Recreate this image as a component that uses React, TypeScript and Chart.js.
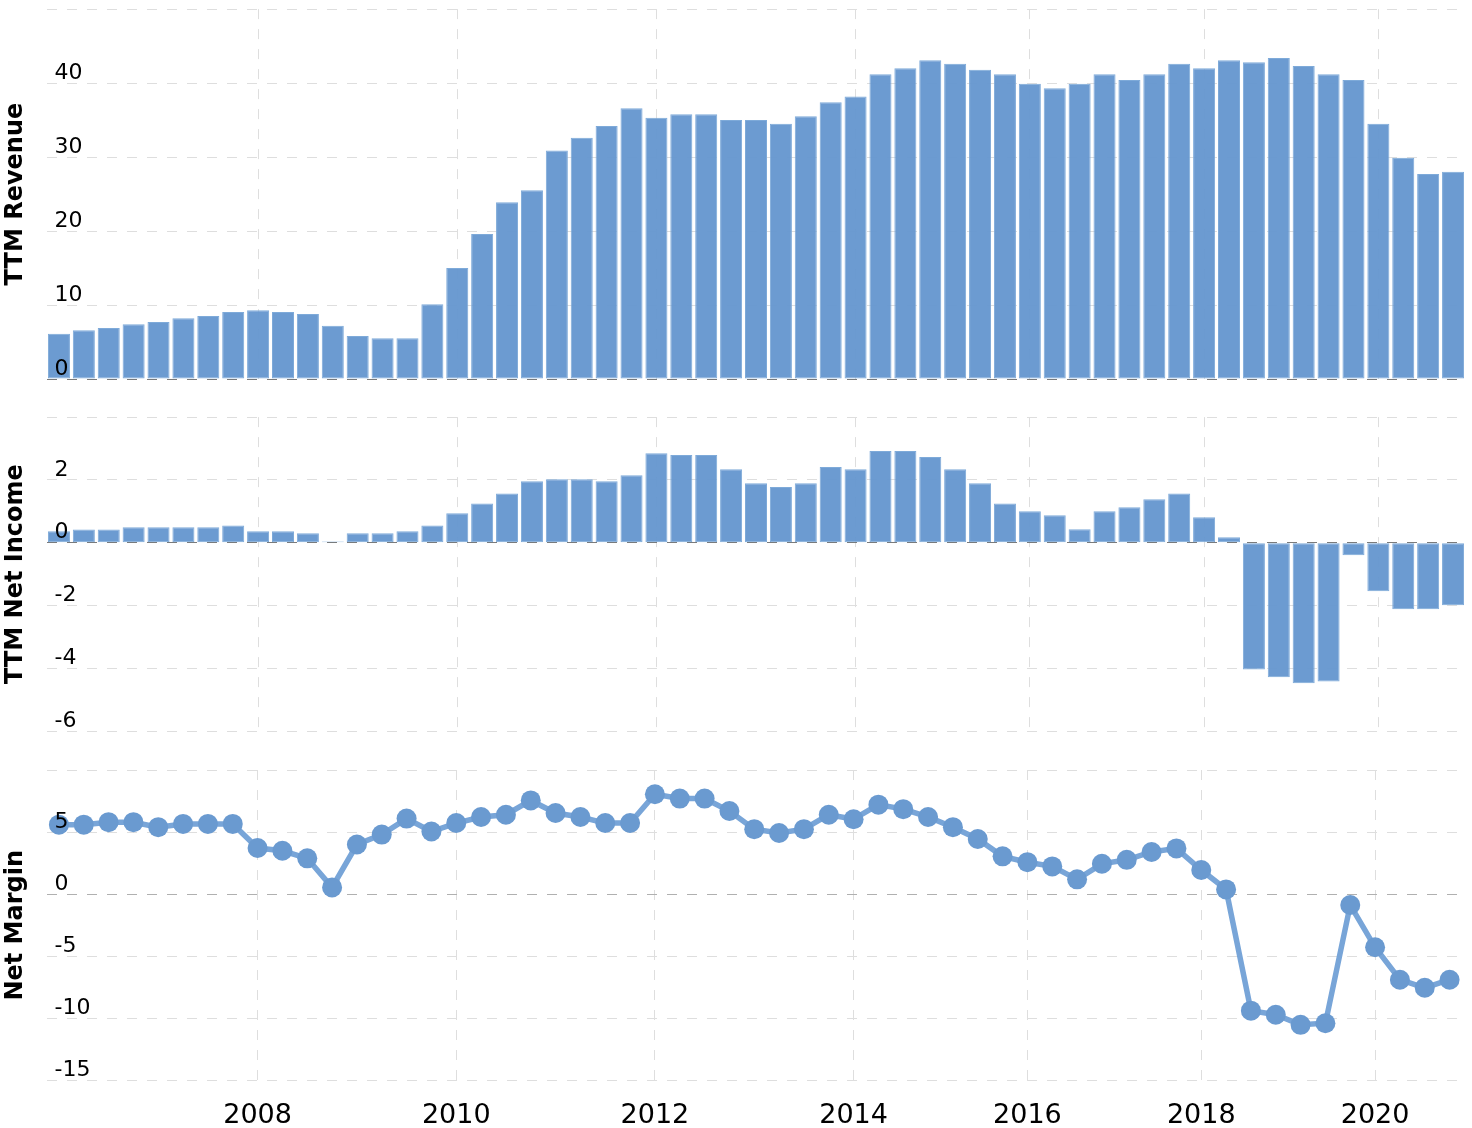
import React, { useEffect, useRef } from 'react';
import { Chart, registerables } from 'chart.js';

Chart.register(...registerables);

// ---- data ----
const periods = [
  '2006 Q1', '2006 Q2', '2006 Q3', '2006 Q4',
  '2007 Q1', '2007 Q2', '2007 Q3', '2007 Q4',
  '2008 Q1', '2008 Q2', '2008 Q3', '2008 Q4',
  '2009 Q1', '2009 Q2', '2009 Q3', '2009 Q4',
  '2010 Q1', '2010 Q2', '2010 Q3', '2010 Q4',
  '2011 Q1', '2011 Q2', '2011 Q3', '2011 Q4',
  '2012 Q1', '2012 Q2', '2012 Q3', '2012 Q4',
  '2013 Q1', '2013 Q2', '2013 Q3', '2013 Q4',
  '2014 Q1', '2014 Q2', '2014 Q3', '2014 Q4',
  '2015 Q1', '2015 Q2', '2015 Q3',
  '2016 Q1', '2016 Q2', '2016 Q3', '2016 Q4',
  '2017 Q1', '2017 Q2', '2017 Q3',
  '2018 Q1', '2018 Q2', '2018 Q3', '2018 Q4',
  '2019 Q1', '2019 Q2', '2019 Q3',
  '2020 Q1', '2020 Q2', '2020 Q3', '2020 Q4',
];

const yearTicks = ['2008', '2010', '2012', '2014', '2016', '2018', '2020'];

const ttmRevenue = [
  6.1, 6.6, 6.9, 7.4, 7.7, 8.2, 8.5, 9.05, 9.3, 9.05,
  8.8, 7.2, 5.8, 5.5, 5.5, 10.1, 15.0, 19.6, 23.9, 25.5,
  30.9, 32.6, 34.2, 36.6, 35.3, 35.8, 35.8, 35.0, 35.0, 34.5,
  35.5, 37.4, 38.2, 41.2, 42.0, 43.1, 42.6, 41.8, 41.2, 39.9,
  39.3, 39.9, 41.2, 40.4, 41.2, 42.6, 42.0, 43.1, 42.8, 43.4,
  42.3, 41.2, 40.4, 34.5, 29.9, 27.7, 28.0,
];

const ttmNetIncome = [
  0.36, 0.42, 0.42, 0.49, 0.49, 0.49, 0.49, 0.55, 0.36, 0.36,
  0.30, 0.04, 0.30, 0.30, 0.36, 0.55, 0.94, 1.25, 1.57, 1.96,
  2.02, 2.02, 1.96, 2.15, 2.85, 2.79, 2.79, 2.34, 1.89, 1.77,
  1.89, 2.41, 2.34, 2.92, 2.92, 2.73, 2.34, 1.89, 1.25, 1.0,
  0.87, 0.43, 1.0, 1.13, 1.38, 1.57, 0.81, 0.17, -4.04, -4.29,
  -4.48, -4.42, -0.40, -1.55, -2.12, -2.12, -1.99,
];

const netMargin = [
  5.6, 5.6, 5.8, 5.8, 5.4, 5.66, 5.66, 5.66, 3.72, 3.5,
  2.89, 0.55, 4.0, 4.8, 6.09, 5.05, 5.73, 6.22, 6.4, 7.55,
  6.54, 6.22, 5.73, 5.73, 8.05, 7.7, 7.7, 6.7, 5.24, 4.93,
  5.24, 6.4, 6.04, 7.21, 6.85, 6.22, 5.4, 4.45, 3.05, 2.58,
  2.24, 1.2, 2.45, 2.77, 3.4, 3.69, 1.95, 0.39, -9.37, -9.7,
  -10.51, -10.38, -0.87, -4.27, -6.88, -7.53, -6.88,
];

// axis ranges
const revenueAxis = { min: 0, max: 50, step: 10 };
const incomeAxis = { min: -6, max: 4, step: 2 };
const marginAxis = { min: -15, max: 10, step: 5 };

// ---- style ----
const FONT = "'DejaVu Sans', Verdana, sans-serif";
const BLUE = 'rgba(100,150,207,0.95)';
const BLUE_BORDER = '#7eaad9';
const LINE_BLUE = '#78a5d8';
const POINT_BLUE = '#6a9ad0';
const GRID = '#dedede';
const DASH = [10, 10];

function yearLabel(i: number): string {
  const p = periods[i] || '';
  const y = p.slice(0, 4);
  return p.endsWith('Q1') && yearTicks.includes(y) ? y : '';
}

function xScale(showLabels: boolean) {
  return {
    type: 'category',
    offset: true,
    grid: {
      offset: false,
      drawTicks: showLabels,
      tickLength: 17,
      tickColor: 'transparent',
      color: (ctx: any) => (yearLabel(ctx.index) ? GRID : 'transparent'),
    },
    border: { display: false, dash: DASH },
    ticks: {
      display: showLabels,
      autoSkip: false,
      maxRotation: 0,
      minRotation: 0,
      padding: 2,
      color: '#000',
      font: { family: FONT, size: 27 },
      callback: (_v: any, i: number) => yearLabel(i),
    },
  };
}

function yScales(title: string, r: { min: number; max: number; step: number }, zeroOver: boolean) {
  return {
    y: {
      axis: 'y',
      position: 'left',
      weight: 1,
      min: r.min,
      max: r.max,
      ticks: { display: false, stepSize: r.step },
      grid: {
        drawTicks: false,
        color: (ctx: any) => (ctx.tick && ctx.tick.value === 0 ? '#b0b0b0' : GRID),
      },
      border: { display: false, dash: DASH },
      title: {
        display: true,
        text: title,
        color: '#000',
        font: { family: FONT, size: 24, weight: 'bold' },
        padding: { top: 1, bottom: 0.7 },
      },
    },
    yl: {
      axis: 'y',
      position: 'left',
      weight: 0,
      min: r.min,
      max: r.max,
      ticks: {
        z: 2,
        stepSize: r.step,
        mirror: true,
        padding: 8,
        labelOffset: -10,
        color: '#000',
        font: { family: FONT, size: 22, lineHeight: 0.1 },
        callback: (v: any) => (v === r.max ? '' : String(v)),
      },
      grid: {
        z: 1,
        display: zeroOver,
        drawTicks: false,
        color: (ctx: any) => (ctx.tick && ctx.tick.value === 0 ? 'rgba(0,0,0,0.3)' : 'transparent'),
      },
      border: { display: false, dash: DASH },
    },
  };
}

const layoutPad = (bottom: number) => ({ top: 9, bottom, left: 0, right: 6.5 });

export default function App() {
  const r1 = useRef<HTMLCanvasElement | null>(null);
  const r2 = useRef<HTMLCanvasElement | null>(null);
  const r3 = useRef<HTMLCanvasElement | null>(null);

  useEffect(() => {
    const common = {
      responsive: true,
      maintainAspectRatio: false,
      animation: false,
      events: [],
      plugins: { legend: { display: false }, tooltip: { enabled: false } },
    };

    const barDs = (data: number[]) => ({
      data,
      yAxisID: 'y',
      backgroundColor: BLUE,
      borderColor: BLUE_BORDER,
      borderWidth: 1,
      borderSkipped: false,
      categoryPercentage: 1,
      barPercentage: 0.885,
    });

    const c1 = new Chart(r1.current as HTMLCanvasElement, {
      type: 'bar',
      data: { labels: periods, datasets: [barDs(ttmRevenue) as any] },
      options: {
        ...common,
        layout: { padding: layoutPad(10) },
        scales: { x: xScale(false), ...yScales('TTM Revenue', revenueAxis, true) } as any,
      } as any,
    });

    const c2 = new Chart(r2.current as HTMLCanvasElement, {
      type: 'bar',
      data: { labels: periods, datasets: [barDs(ttmNetIncome) as any] },
      options: {
        ...common,
        layout: { padding: layoutPad(10) },
        scales: { x: xScale(false), ...yScales('TTM Net Income', incomeAxis, true) } as any,
      } as any,
    });

    const c3 = new Chart(r3.current as HTMLCanvasElement, {
      type: 'line',
      data: {
        labels: periods,
        datasets: [
          {
            data: netMargin,
            yAxisID: 'y',
            borderColor: LINE_BLUE,
            borderWidth: 5.5,
            tension: 0,
            pointRadius: 10,
            pointBorderWidth: 0,
            pointBackgroundColor: POINT_BLUE,
            pointBorderColor: POINT_BLUE,
            clip: false,
          } as any,
        ],
      },
      options: {
        ...common,
        layout: { padding: layoutPad(0) },
        scales: { x: xScale(true), ...yScales('Net Margin', marginAxis, false) } as any,
      } as any,
    });

    return () => {
      c1.destroy();
      c2.destroy();
      c3.destroy();
    };
  }, []);

  const box = (top: number, height: number): React.CSSProperties => ({
    position: 'absolute',
    left: 0,
    top,
    width: 1472,
    height,
  });

  return (
    <div
      style={{
        position: 'absolute',
        left: 0,
        top: 0,
        width: 1472,
        height: 1128,
        overflow: 'hidden',
        background: '#fff',
      }}
    >
      <div style={box(0, 389)}>
        <canvas ref={r1} />
      </div>
      <div style={box(408, 333)}>
        <canvas ref={r2} />
      </div>
      <div style={box(760, 374)}>
        <canvas ref={r3} />
      </div>
    </div>
  );
}
